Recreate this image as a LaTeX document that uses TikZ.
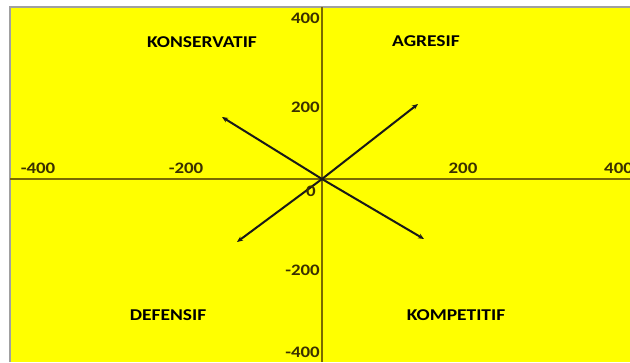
\documentclass[tikz,border=0pt]{standalone}
\usepackage{fontspec}
\setmainfont{Carlito}
\newfontfamily\widefont[FakeStretch=1.18]{Carlito}
\usetikzlibrary{arrows.meta}
\definecolor{bgyellow}{HTML}{FFFF00}
\definecolor{axiscol}{HTML}{7A6A00}
\definecolor{tickcol}{HTML}{3A3000}
\definecolor{framecol}{HTML}{A0A0A0}
\tikzset{
  axisline/.style={draw=axiscol, line width=1.8pt},
  vec/.style={draw=black!90, line width=2pt, -{Stealth[length=6pt,width=5pt]}},
  ticklab/.style={text=tickcol, font=\widefont\fontsize{16}{18}\selectfont\bfseries, inner sep=0pt},
  quadlab/.style={text=black, font=\widefont\fontsize{16.5}{18}\selectfont\bfseries, inner sep=0pt},
}
\begin{document}
\begin{tikzpicture}[x=1pt,y=-1pt]
\useasboundingbox (0,0) rectangle (630,362);
\fill[white] (0,0) rectangle (630,362);
\fill[bgyellow] (10,7) rectangle (630,362);
\draw[framecol, line width=1.5pt] (10,362) -- (10,7) -- (630,7);
% axes
\coordinate (xl) at (10,179);
\coordinate (xr) at (630,179);
\coordinate (yt) at (322,7);
\coordinate (yb) at (322,362);
\draw[axisline] (xl) -- (xr);
\draw[axisline] (yt) -- (yb);
% origin and vector ends
\coordinate (o) at (322,179);
\coordinate (agr) at (418,104);
\coordinate (kon) at (222,117);
\coordinate (def) at (237,242);
\coordinate (kom) at (424,239);
\draw[vec] (o) -- (agr);
\draw[vec] (o) -- (kon);
\draw[vec] (o) -- (def);
\draw[vec] (o) -- (kom);
% tick labels
\node[ticklab] (t1) at (38,168) {-400};
\node[ticklab] (t2) at (186,168) {-200};
\node[ticklab] (t3) at (463,168) {200};
\node[ticklab, anchor=west] (t4) at (604,168) {400};
\node[ticklab, anchor=east] (v1) at (320,18) {400};
\node[ticklab, anchor=east] (v2) at (320,107) {200};
\node[ticklab, anchor=east] (v0) at (316,191) {0};
\node[ticklab, anchor=east] (v3) at (320,270) {-200};
\node[ticklab, anchor=east] (v4) at (320,352) {-400};
% quadrant labels
\node[quadlab] (kons) at (202,42) {KONSERVATIF};
\node[quadlab] (agre) at (426,41) {AGRESIF};
\node[quadlab] (defe) at (168,315) {DEFENSIF};
\node[quadlab] (komp) at (456,315) {KOMPETITIF};
\end{tikzpicture}
\end{document}
